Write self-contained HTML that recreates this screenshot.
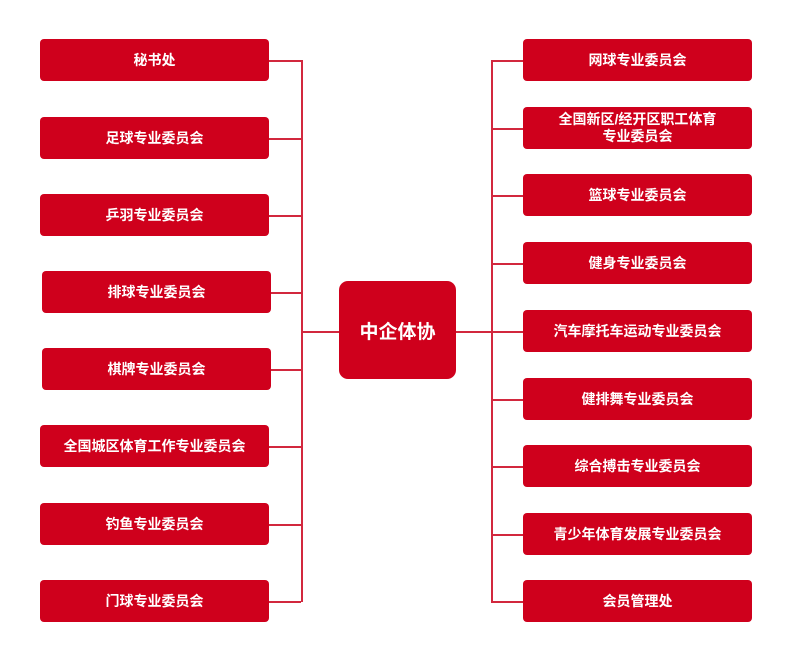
<!DOCTYPE html>
<html><head><meta charset="utf-8"><style>
body{margin:0;width:800px;height:656px;background:#fff;position:relative;overflow:hidden;font-family:"Liberation Sans","Noto Sans CJK SC",sans-serif}
.b{position:absolute;width:229px;height:42px;background:#cf001c;border-radius:4px;color:#fff;font-weight:bold;font-size:14px;display:flex;align-items:center;justify-content:center;text-align:center;line-height:17px}
.l{position:absolute;background:#d2283e}
.c{position:absolute;left:339px;top:281px;width:117px;height:98px;background:#cf001c;border-radius:9px;color:#fff;font-weight:bold;font-size:19px;display:flex;align-items:center;justify-content:center}
</style></head><body>
<div class="l" style="left:301px;top:60px;width:1.5px;height:542px"></div>
<div class="l" style="left:491px;top:60px;width:1.5px;height:542px"></div>
<div class="l" style="left:301px;top:331px;width:38px;height:1.5px"></div>
<div class="l" style="left:456px;top:331px;width:36px;height:1.5px"></div>

<div class="l" style="left:269px;top:60px;width:32px;height:1.5px"></div>
<div class="l" style="left:269px;top:138px;width:32px;height:1.5px"></div>
<div class="l" style="left:269px;top:215px;width:32px;height:1.5px"></div>
<div class="l" style="left:271px;top:292px;width:30px;height:1.5px"></div>
<div class="l" style="left:271px;top:369px;width:30px;height:1.5px"></div>
<div class="l" style="left:269px;top:446px;width:32px;height:1.5px"></div>
<div class="l" style="left:269px;top:524px;width:32px;height:1.5px"></div>
<div class="l" style="left:269px;top:601px;width:32px;height:1.5px"></div>

<div class="b" style="left:40px;top:39px">秘书处</div>
<div class="b" style="left:40px;top:117px">足球专业委员会</div>
<div class="b" style="left:40px;top:194px">乒羽专业委员会</div>
<div class="b" style="left:42px;top:271px">排球专业委员会</div>
<div class="b" style="left:42px;top:348px">棋牌专业委员会</div>
<div class="b" style="left:40px;top:425px">全国城区体育工作专业委员会</div>
<div class="b" style="left:40px;top:503px">钓鱼专业委员会</div>
<div class="b" style="left:40px;top:580px">门球专业委员会</div>

<div class="l" style="left:491px;top:60px;width:32px;height:1.5px"></div>
<div class="l" style="left:491px;top:128px;width:32px;height:1.5px"></div>
<div class="l" style="left:491px;top:195px;width:32px;height:1.5px"></div>
<div class="l" style="left:491px;top:263px;width:32px;height:1.5px"></div>
<div class="l" style="left:491px;top:399px;width:32px;height:1.5px"></div>
<div class="l" style="left:491px;top:466px;width:32px;height:1.5px"></div>
<div class="l" style="left:491px;top:534px;width:32px;height:1.5px"></div>
<div class="l" style="left:491px;top:601px;width:32px;height:1.5px"></div>
<div class="l" style="left:491px;top:331px;width:32px;height:1.5px"></div>

<div class="b" style="left:523px;top:39px">网球专业委员会</div>
<div class="b" style="left:523px;top:107px">全国新区/经开区职工体育<br>专业委员会</div>
<div class="b" style="left:523px;top:174px">篮球专业委员会</div>
<div class="b" style="left:523px;top:242px">健身专业委员会</div>
<div class="b" style="left:523px;top:310px">汽车摩托车运动专业委员会</div>
<div class="b" style="left:523px;top:378px">健排舞专业委员会</div>
<div class="b" style="left:523px;top:445px">综合搏击专业委员会</div>
<div class="b" style="left:523px;top:513px">青少年体育发展专业委员会</div>
<div class="b" style="left:523px;top:580px">会员管理处</div>

<div class="c">中企体协</div>
</body></html>
